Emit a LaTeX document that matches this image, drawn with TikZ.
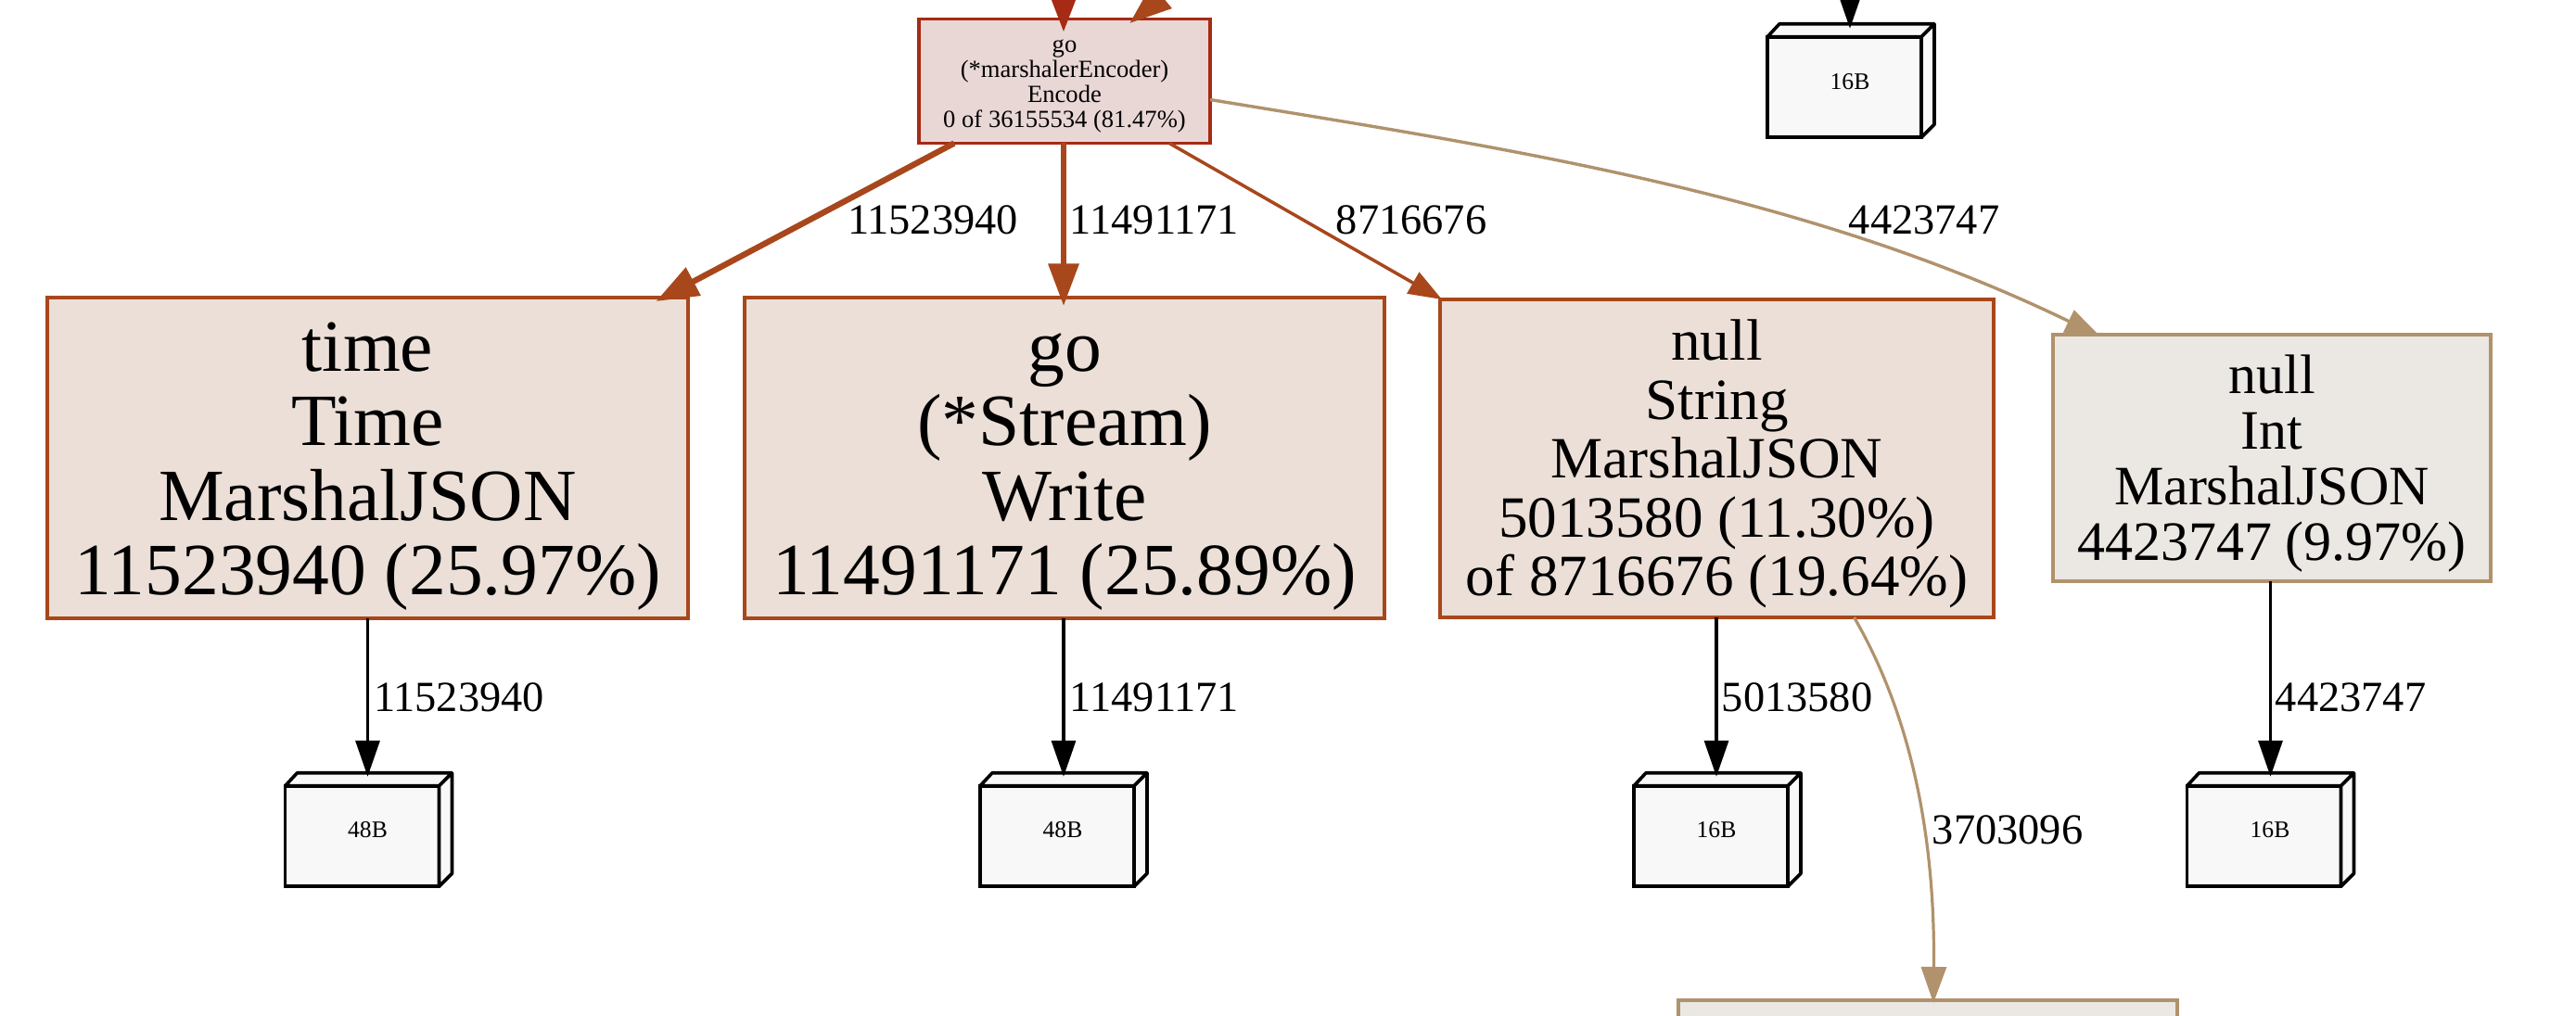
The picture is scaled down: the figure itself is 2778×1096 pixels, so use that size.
\documentclass[tikz,border=0pt]{standalone}
\usepackage{fontspec}
\setmainfont{Liberation Serif}
\usetikzlibrary{arrows.meta,calc}
\definecolor{redline}{HTML}{A62A14}
\definecolor{redfill}{HTML}{E9D7D6}
\definecolor{rust}{HTML}{A8471C}
\definecolor{rustfill}{HTML}{EBDFD7}
\definecolor{tan}{HTML}{B0926C}
\definecolor{tanfill}{HTML}{EBE7E3}
\definecolor{cubefill}{HTML}{F8F8F8}
\tikzset{
  fnbox/.style={draw,rectangle,inner sep=0pt,outer sep=0pt,align=center,line width=1.7pt,text depth=0pt},
  big/.style={font=\fontsize{39.75}{40.2}\selectfont,text height=147.5pt},
  mid/.style={font=\fontsize{31.55}{31.7}\selectfont,text height=148pt},
  midb/.style={font=\fontsize{30}{30}\selectfont,text height=110.5pt},
  tiny/.style={font=\fontsize{13.3}{13.4}\selectfont,text height=49.7pt},
  cubelabel/.style={font=\fontsize{12.8}{13}\selectfont,inner sep=0pt},
  edgelabel/.style={font=\fontsize{23.2}{24}\selectfont,anchor=base,inner sep=0pt},
  cubefront/.style={draw=black,fill=cubefill,line width=1.8pt,rectangle,inner sep=0pt,outer sep=0pt,minimum width=83pt,minimum height=54.25pt},
  edgeb/.style={draw=black,line width=1.7pt,-{Triangle[length=19.5pt,width=13pt]}},
}
\newcommand{\cubefaces}[1]{%
  \draw[fill=cubefill,line width=1.8pt,line join=round]
    (#1.north west)--++(6.5pt,7pt)--++(83.5pt,0pt)--++(0pt,-54.25pt)--++(-7pt,-7pt)--(#1.north east)--cycle
    (#1.north east)--++(7pt,7pt);}
\begin{document}
\begin{tikzpicture}[x=0.5pt,y=-0.5pt]
\clip (0,0) rectangle (2778,1096);
\fill[white] (0,0) rectangle (2778,1096);
% function boxes
\node[fnbox,tiny,draw=redline,fill=redfill,minimum width=157pt,minimum height=67pt] (go) at (1148,87.5)
  {go\\(*marshalerEncoder)\\Encode\\0 of 36155534 (81.47\%)};
\node[fnbox,big,draw=rust,fill=rustfill,minimum width=345.5pt,minimum height=173pt] (time) at (396.5,494)
  {time\\Time\\MarshalJSON\\11523940 (25.97\%)};
\node[fnbox,big,draw=rust,fill=rustfill,minimum width=345pt,minimum height=173pt] (stream) at (1148,494)
  {go\\(*Stream)\\Write\\11491171 (25.89\%)};
\node[fnbox,mid,draw=rust,fill=rustfill,minimum width=298.5pt,minimum height=171.5pt] (nstr) at (1851.5,494.5)
  {null\\String\\MarshalJSON\\5013580 (11.30\%)\\of 8716676 (19.64\%)};
\node[fnbox,midb,draw=tan,fill=tanfill,minimum width=236pt,minimum height=133pt] (nint) at (2450,494)
  {null\\Int\\MarshalJSON\\4423747 (9.97\%)};
\node[draw,rectangle,inner sep=0pt,outer sep=0pt,line width=1.7pt,draw=tan,fill=tanfill,minimum width=269pt,minimum height=60pt] (low) at (2079,1139) {};
% cubes
\node[cubefront] (c1) at (390.5,902) {};
\node[cubefront] (c2) at (1140,902) {};
\node[cubefront] (c3) at (1845,902) {};
\node[cubefront] (c4) at (2441.5,902) {};
\node[cubefront] (c5) at (1989,94) {};
\cubefaces{c1}\cubefaces{c2}\cubefaces{c3}\cubefaces{c4}\cubefaces{c5}
\node[cubelabel] (l1) at (396.5,895.5) {48B};
\node[cubelabel] (l2) at (1146,895.5) {48B};
\node[cubelabel] (l3) at (1851,895.5) {16B};
\node[cubelabel] (l4) at (2448,895.5) {16B};
\node[cubelabel] (l5) at (1995,88.5) {16B};
% coordinates off the page
\coordinate (in1) at (1147,-90);
\coordinate (in2) at (1295,-39);
\coordinate (in3) at (1995,-60);
% edges
\draw[draw=redline,line width=3.5pt,-{Triangle[length=25pt,width=18pt]}] (in1) -- ([xshift=-0.5pt,yshift=-7pt]go.north);
\draw[draw=rust,line width=3.5pt,-{Triangle[length=22.8pt,width=16pt]}] (in2) -- ([xshift=35pt,yshift=-2.35pt]go.north);
\draw[edgeb] (in3) -- ([xshift=3pt,yshift=4.5pt]c5.north);
\draw[draw=rust,line width=3.2pt,-{Triangle[length=22.8pt,width=16.5pt]}] ([xshift=-59.5pt]go.south) -- ([xshift=155.5pt,yshift=-2pt]time.north);
\draw[draw=rust,line width=3.3pt,-{Triangle[length=22.8pt,width=16pt]}] ([xshift=-0.5pt]go.south) -- ([xshift=-0.5pt,yshift=-4.5pt]stream.north);
\draw[draw=rust,line width=1.75pt,-{Triangle[length=18pt,width=13pt]}] ([xshift=56.5pt]go.south) -- ([xshift=-148.25pt]nstr.north);
\draw[draw=tan,line width=1.7pt,-{Triangle[length=19pt,width=13pt]}] ([yshift=-10pt]go.east) .. controls (1626,160) and (1945,208) .. ([xshift=-92.5pt,yshift=-1pt]nint.north);
\draw[draw=tan,line width=1.6pt,-{Triangle[length=19.5pt,width=13.5pt]}] ([xshift=74pt]nstr.south) .. controls (2060,770) and (2087,900) .. ([xshift=3pt,yshift=-1.5pt]low.north);
\draw[edgeb] (time.south) -- ([xshift=3pt,yshift=5pt]c1.north);
\draw[edgeb] ([xshift=-0.5pt]stream.south) -- ([xshift=3.5pt,yshift=5pt]c2.north);
\draw[edgeb] ([xshift=-0.25pt]nstr.south) -- ([xshift=3pt,yshift=5pt]c3.north);
\draw[edgeb] ([xshift=-0.75pt]nint.south) -- ([xshift=3.5pt,yshift=5pt]c4.north);
% edge labels
\node[edgelabel] (e1) at (1006,253) {11523940};
\node[edgelabel] (e2) at (1245,253) {11491171};
\node[edgelabel] (e3) at (1522,253) {8716676};
\node[edgelabel] (e4) at (2075,253) {4423747};
\node[edgelabel] (e5) at (495,767) {11523940};
\node[edgelabel] (e6) at (1245,767) {11491171};
\node[edgelabel] (e7) at (1938,767) {5013580};
\node[edgelabel] (e8) at (2535,767) {4423747};
\node[edgelabel] (e9) at (2165,910) {3703096};
\end{tikzpicture}
\end{document}
